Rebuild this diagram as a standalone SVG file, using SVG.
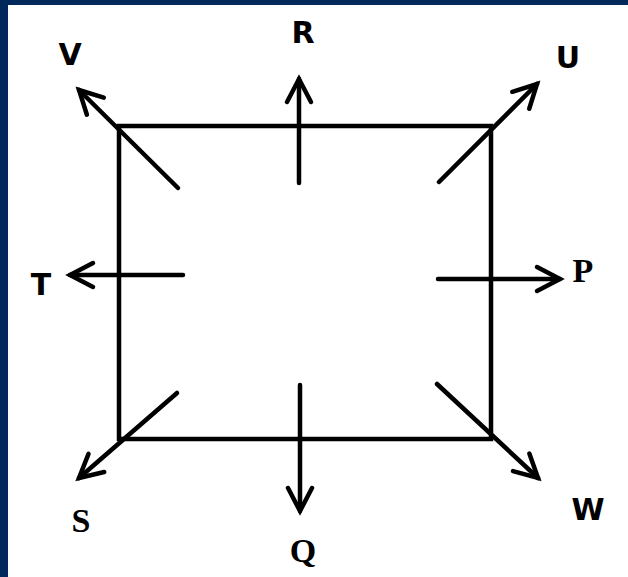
<svg xmlns="http://www.w3.org/2000/svg" width="628" height="577" viewBox="0 0 628 577">
<style>
.ln{stroke:#000;stroke-width:4.5;fill:none;stroke-linecap:round}
.sans{font-family:"DejaVu Sans","Liberation Sans",sans-serif;font-weight:bold;font-size:30px;fill:#000;text-anchor:middle}
.serif{font-family:"Liberation Serif","DejaVu Serif",serif;font-weight:bold;font-size:34px;fill:#000;text-anchor:middle}
</style>
<defs>
<marker id="ah" markerUnits="userSpaceOnUse" viewBox="-30 -20 40 40" markerWidth="40" markerHeight="40" refX="0" refY="0" orient="auto">
<path d="M-23,-12 L0,0 L-23,12" fill="none" stroke="#000" stroke-width="4.5" stroke-linecap="round" stroke-linejoin="miter"/>
</marker>
</defs>
<rect x="0" y="0" width="628" height="577" fill="#00285a"/>
<rect x="8" y="5" width="620" height="572" fill="#fff"/>
<g id="square">
<rect x="119" y="126" width="372" height="313" class="ln" stroke-linecap="butt"/>
</g>
<g id="connectors">
<line class="ln" x1="299" y1="183" x2="299" y2="79" marker-end="url(#ah)"/>
<line class="ln" x1="300" y1="385" x2="300" y2="511" marker-end="url(#ah)"/>
<line class="ln" x1="183" y1="275" x2="70" y2="275" marker-end="url(#ah)"/>
<line class="ln" x1="438" y1="279" x2="560" y2="279" marker-end="url(#ah)"/>
<line class="ln" x1="178" y1="188" x2="79" y2="90" marker-end="url(#ah)"/>
<line class="ln" x1="439" y1="182" x2="537" y2="84" marker-end="url(#ah)"/>
<line class="ln" x1="177" y1="393" x2="79" y2="478" marker-end="url(#ah)"/>
<line class="ln" x1="437" y1="384" x2="538" y2="478" marker-end="url(#ah)"/>
</g>
<g id="label-R"><text class="sans" x="303" y="43">R</text></g>
<g id="label-V"><text class="sans" x="70" y="65">V</text></g>
<g id="label-U"><text class="sans" x="568" y="68">U</text></g>
<g id="label-T"><text class="sans" x="41" y="295">T</text></g>
<g id="label-P"><text class="serif" x="583" y="282">P</text></g>
<g id="label-S"><text class="serif" x="81" y="532">S</text></g>
<g id="label-Q"><text class="serif" x="303" y="562">Q</text></g>
<g id="label-W"><text class="sans" x="588" y="520">W</text></g>
</svg>
